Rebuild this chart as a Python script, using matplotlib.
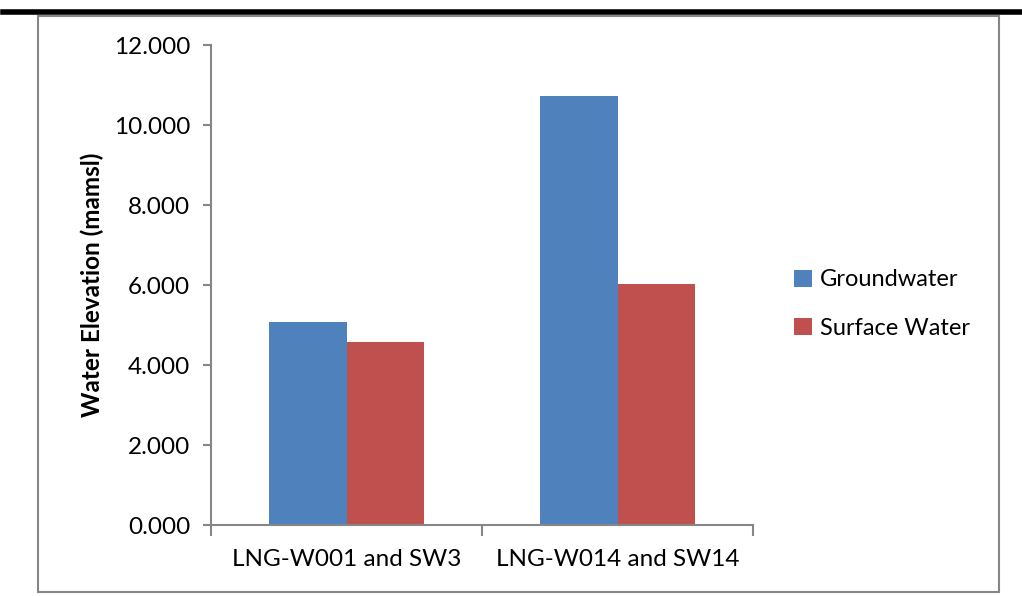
import numpy as np
import matplotlib.pyplot as plt
from matplotlib.patches import Rectangle
from matplotlib.lines import Line2D

categories = ["LNG-W001 and SW3", "LNG-W014 and SW14"]
groundwater = [5.075, 10.725]
surface_water = [4.575, 6.025]
series_names = ["Groundwater", "Surface Water"]
yticks = [0, 2, 4, 6, 8, 10, 12]

blue = "#4f81bd"
red = "#c0504d"
grey = "#868686"

plt.rcParams['font.family'] = ['Lato', 'DejaVu Sans']
fs = 17.5

fig = plt.figure(figsize=(10.22, 5.96), dpi=100)

# page rule at top and chart frame
fig.add_artist(Line2D([3 / 1022, 1.0], [1 - 12 / 596, 1 - 12 / 596], color="black", lw=4))
fig.add_artist(Rectangle((38 / 1022, 1 - 592 / 596), (999 - 38) / 1022, (592 - 16) / 596,
                         fill=False, edgecolor=grey, lw=1.5))

ax = fig.add_axes([211 / 1022, 1 - 525 / 596, (753 - 211) / 1022, (525 - 45) / 596])

x = np.arange(len(categories))
w = 0.285
ax.bar(x - w / 2, groundwater, w, color=blue, label=series_names[0])
ax.bar(x + w / 2, surface_water, w, color=red, label=series_names[1])

ax.set_xlim(-0.5, 1.5)
ax.set_ylim(0, 12)
ax.set_yticks(yticks)
ax.set_yticklabels(["{:.3f}".format(v) for v in yticks])
ax.set_xticks([-0.5, 0.5, 1.5], minor=False)
ax.set_xticklabels([])
ax.set_xticks(x, minor=True)
ax.set_xticklabels(categories, minor=True)
ax.tick_params(axis="x", which="major", length=8, color=grey, width=1.5)
ax.tick_params(axis="x", which="minor", length=0, labelsize=fs, pad=17)
ax.tick_params(axis="y", length=6, color=grey, width=1.5, labelsize=fs, pad=9)

for s in ["top", "right"]:
    ax.spines[s].set_visible(False)
for s in ["left", "bottom"]:
    ax.spines[s].set_color(grey)
    ax.spines[s].set_linewidth(1.5)

ax.set_ylabel("Water Elevation (mamsl)", fontsize=fs, fontweight="bold", labelpad=7)

ax.legend(loc="center left", bbox_to_anchor=(773 / 1022, 1 - 304 / 596),
          bbox_transform=fig.transFigure, frameon=False, fontsize=17,
          handlelength=0.75, handleheight=0.75, handletextpad=0.35, labelspacing=1.15)

fig.savefig("out.png", dpi=100)
